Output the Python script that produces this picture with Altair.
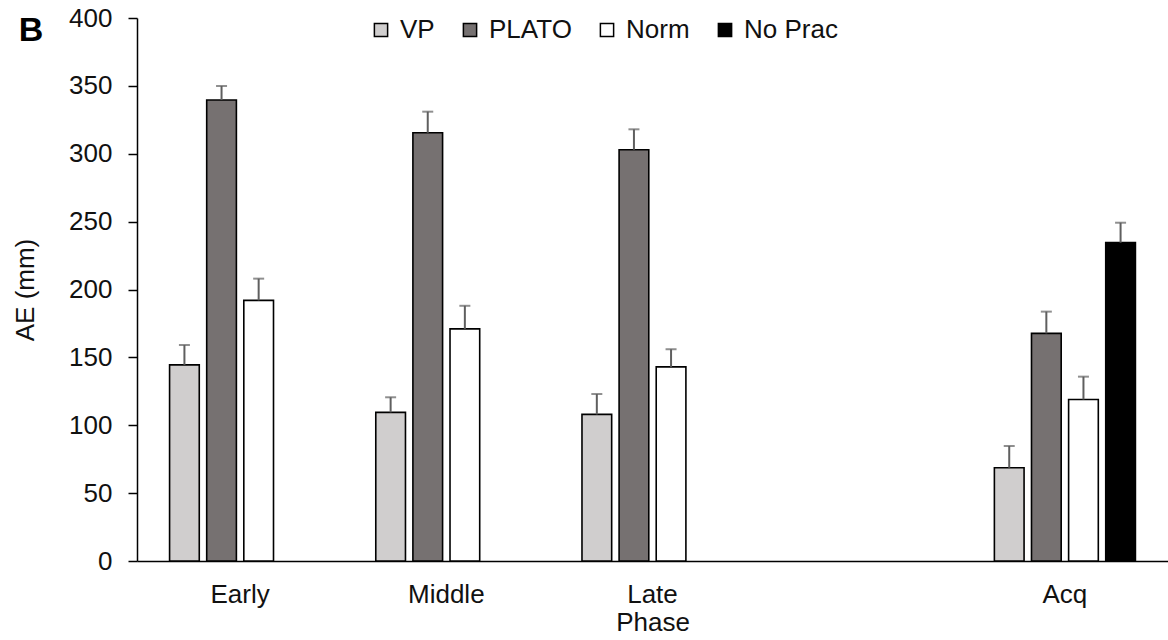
import altair as alt
import pandas as pd

phases = ["Early", "Middle", "Late", " ", "Acq"]
groups = ["VP", "PLATO", "Norm", "No Prac"]
colors = ["#d0cece", "#767171", "#ffffff", "#000000"]

# (phase, group, mean, mean+SE)
rows_phase = ["Early", "Early", "Early", "Middle", "Middle", "Middle", "Late", "Late", "Late", "Acq", "Acq", "Acq", "Acq"]
rows_group = ["VP", "PLATO", "Norm", "VP", "PLATO", "Norm", "VP", "PLATO", "Norm", "VP", "PLATO", "Norm", "No Prac"]
means = [144.5, 339.6, 192.0, 109.5, 315.5, 171.0, 108.0, 303.0, 143.0, 68.7, 167.7, 119.0, 234.5]
err_tops = [159.1, 349.9, 208.0, 120.6, 331.0, 188.0, 123.0, 318.0, 156.0, 84.7, 183.7, 135.8, 249.2]

df = pd.DataFrame({"Phase": rows_phase, "Group": rows_group, "AE": means, "Top": err_tops})

FONT = "Liberation Sans"
FS = 26
TXT = "#111111"

x_enc = alt.X("Phase:N", scale=alt.Scale(domain=phases, paddingInner=0.28, paddingOuter=0.14),
              axis=alt.Axis(title="Phase", labelAngle=0, ticks=False, labelPadding=20,
                            titlePadding=2, labelFontSize=FS, titleFontSize=FS,
                            titleFontWeight="normal", domainColor="black", domainWidth=1.5,
                            labelColor=TXT, titleColor=TXT))
xo_enc = alt.XOffset("Group:N", scale=alt.Scale(domain=groups, paddingInner=0.2, paddingOuter=0.1))

bars = alt.Chart(df).mark_bar(stroke="black", strokeWidth=1.6).encode(
    x=x_enc,
    xOffset=xo_enc,
    y=alt.Y("AE:Q", scale=alt.Scale(domain=[0, 400]),
            axis=alt.Axis(title="AE (mm)", values=list(range(0, 401, 50)), grid=False,
                          tickSize=9, tickColor="black", tickWidth=1.5, domainColor="black",
                          domainWidth=1.5, labelFontSize=FS, titleFontSize=FS,
                          titleFontWeight="normal", labelPadding=16, titlePadding=30,
                          labelColor=TXT, titleColor=TXT)),
    fill=alt.Fill("Group:N", scale=alt.Scale(domain=groups, range=colors),
                  legend=alt.Legend(title=None, orient="none", direction="horizontal",
                                    legendX=231, legendY=-1, symbolType="square",
                                    symbolSize=175, symbolStrokeColor="black",
                                    symbolStrokeWidth=1.5, labelFontSize=FS,
                                    labelColor=TXT, columnPadding=22,
                                    labelOffset=6)),
)

rules = alt.Chart(df).mark_rule(color="#5f5f5f", strokeWidth=2).encode(
    x="Phase:N", xOffset="Group:N", y="AE:Q", y2="Top:Q")

caps = alt.Chart(df).mark_tick(color="#5f5f5f", thickness=2, size=11).encode(
    x="Phase:N", xOffset="Group:N", y="Top:Q")

letter = alt.Chart(pd.DataFrame({"t": ["B"]})).mark_text(
    fontSize=34, fontWeight="bold", font=FONT, align="center", baseline="middle", color="black"
).encode(text="t:N", x=alt.value(-106), y=alt.value(13))

chart = alt.layer(bars, rules, caps, letter).properties(
    width=1031, height=543,
    autosize=alt.AutoSizeParams(type="none"),
    padding={"left": 137, "top": 18, "right": 0, "bottom": 79},
).configure(font=FONT).configure_view(stroke=None)

chart.save("out.html", embed_options={"renderer": "svg", "actions": False})
